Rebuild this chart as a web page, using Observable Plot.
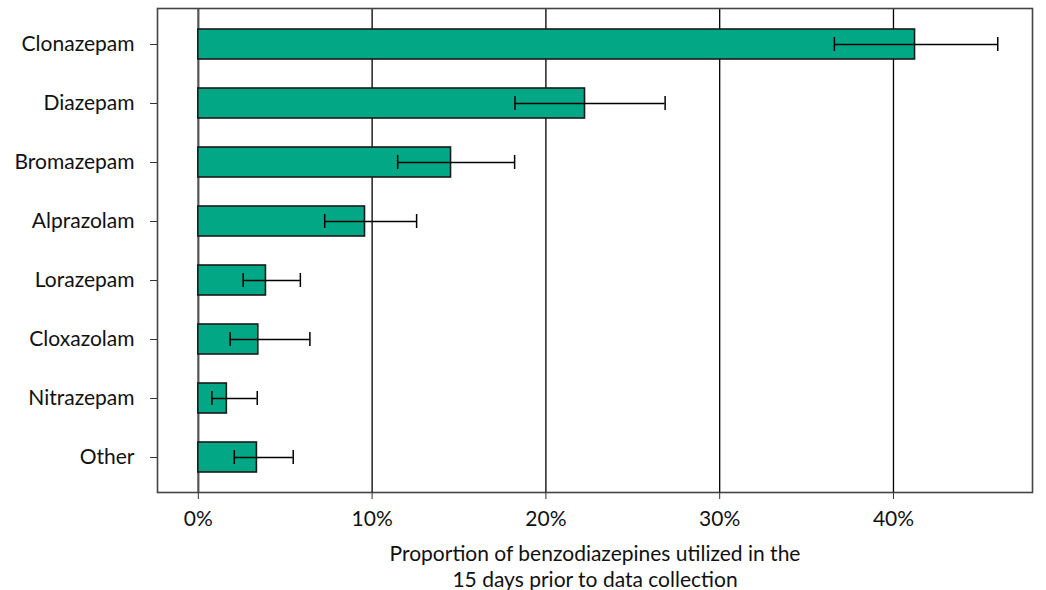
<!DOCTYPE html>
<html>
<head>
<meta charset="utf-8">
<script src="https://cdn.jsdelivr.net/npm/d3@7"></script>
<script src="https://cdn.jsdelivr.net/npm/@observablehq/plot@0.6"></script>
<style>
  html, body { margin: 0; padding: 0; background: #fff; }
  #chart svg { display: block; }
</style>
</head>
<body>
<div id="chart"></div>
<script>
const drugs = ["Clonazepam", "Diazepam", "Bromazepam", "Alprazolam", "Lorazepam", "Cloxazolam", "Nitrazepam", "Other"];
const proportion = [41.24, 22.25, 14.54, 9.59, 3.89, 3.45, 1.64, 3.37];
const ciLow = [36.6, 18.22, 11.47, 7.27, 2.58, 1.83, 0.78, 2.07];
const ciHigh = [46.0, 26.86, 18.2, 12.56, 5.87, 6.42, 3.39, 5.46];
const xTicks = [0, 10, 20, 30, 40];
const xLabel = "Proportion of benzodiazepines utilized in the\n15 days prior to data collection";

const data = drugs.map((d, i) => ({drug: d, value: proportion[i], lo: ciLow[i], hi: ciHigh[i]}));

const font = "Lato, 'Open Sans', sans-serif";

const chart = Plot.plot({
  width: 1046,
  height: 590,
  marginLeft: 157,
  marginRight: 14,
  marginTop: 8,
  marginBottom: 98,
  style: {fontFamily: font, fontSize: "21px", color: "#111", background: "#fff"},
  x: {domain: [-2.35, 48.0], ticks: xTicks, tickFormat: d => d + "%", label: null},
  y: {domain: drugs, paddingInner: 0.5, paddingOuter: 0.35, label: null},
  marks: [
    Plot.ruleX(xTicks.filter(t => t !== 0), {stroke: "#000", strokeWidth: 1.3}),
    Plot.ruleX([0], {stroke: "#555", strokeWidth: 2.2}),
    Plot.barX(data, {y: "drug", x1: 0, x2: "value", fill: "#02A886", stroke: "#1a1a1a", strokeWidth: 1.6}),
    Plot.ruleY(data, {y: "drug", x1: "lo", x2: "hi", stroke: "#000", strokeWidth: 1.5}),
    Plot.tickX(data, {y: "drug", x: "lo", stroke: "#000", strokeWidth: 1.5, insetTop: 8, insetBottom: 8}),
    Plot.tickX(data, {y: "drug", x: "hi", stroke: "#000", strokeWidth: 1.5, insetTop: 8, insetBottom: 8}),
    Plot.frame({stroke: "#444", strokeWidth: 1.6}),
    Plot.axisX({ticks: xTicks, tickFormat: d => d + "%", tickSize: 7, tickPadding: 12, fontSize: 21, stroke: "#333", fill: "#111", label: null}),
    Plot.axisY({tickSize: 7, tickPadding: 16, fontSize: 21, stroke: "#333", fill: "#111", label: null}),
    Plot.text([xLabel], {frameAnchor: "bottom", lineAnchor: "middle", dy: 73, fontSize: 21, lineHeight: 1.25, fill: "#111"})
  ]
});

document.getElementById("chart").appendChild(chart);
</script>
</body>
</html>
